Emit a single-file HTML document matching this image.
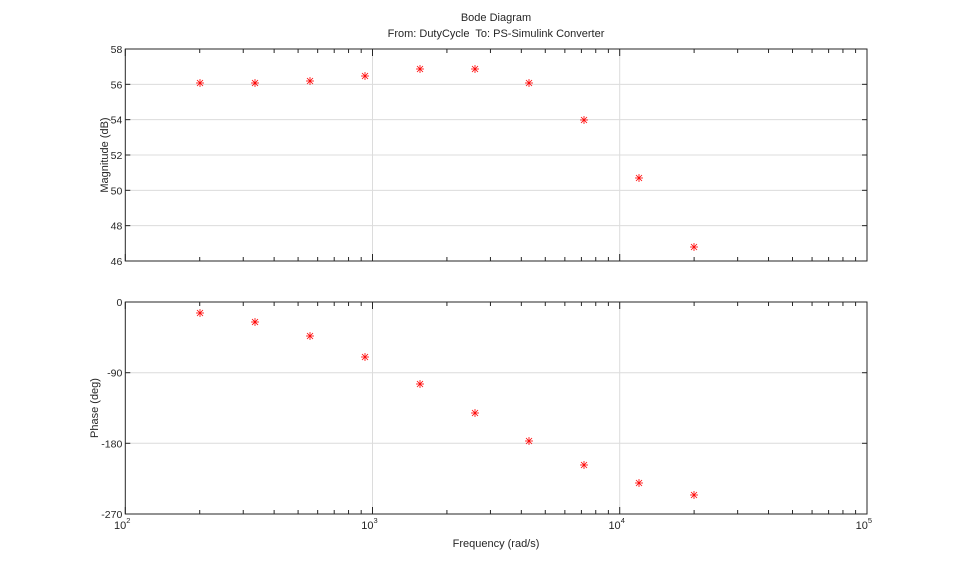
<!DOCTYPE html>
<html><head><style>body{margin:0;background:#fff}svg{display:block}text{font-family:"Liberation Sans",sans-serif;fill:#262626}</style></head>
<body>
<svg id="s" width="959" height="577" xmlns="http://www.w3.org/2000/svg"></svg>
<script>
const s=document.getElementById('s');let h='';
const L=125.3,R=867,D=247.2;
const X=v=>L+(v-2)*D;
h+='<text x="496" y="21" font-size="11" text-anchor="middle">Bode Diagram</text>';
h+='<text x="496" y="37" font-size="11" text-anchor="middle">From: DutyCycle&#160; To: PS-Simulink Converter</text>';
function axes(T,B,yt,lab,ylabel,xlabels){
  for(const y of yt){h+=`<line x1="${L}" x2="${R}" y1="${y[0]}" y2="${y[0]}" stroke="#dcdcdc" stroke-width="1"/>`;}
  for(let d=3;d<=4;d++){h+=`<line x1="${X(d)}" x2="${X(d)}" y1="${T}" y2="${B}" stroke="#dcdcdc"/>`;}
  for(let d=2;d<5;d++)for(let k=1;k<=9;k++){const x=X(d+Math.log10(k));const len=k==1?7:4;
    h+=`<line x1="${x}" x2="${x}" y1="${B}" y2="${B-len}" stroke="#262626"/><line x1="${x}" x2="${x}" y1="${T}" y2="${T+len}" stroke="#262626"/>`;}
  for(const y of yt){h+=`<line x1="${L}" x2="${L+5}" y1="${y[0]}" y2="${y[0]}" stroke="#262626"/><line x1="${R}" x2="${R-5}" y1="${y[0]}" y2="${y[0]}" stroke="#262626"/>`;
    h+=`<text x="${L-3}" y="${y[0]+4}" font-size="10.5" text-anchor="end">${y[1]}</text>`;}
  h+=`<rect x="${L}" y="${T}" width="${R-L}" height="${B-T}" fill="none" stroke="#262626"/>`;
  h+=`<text transform="translate(${lab},${(T+B)/2}) rotate(-90)" font-size="11" text-anchor="middle">${ylabel}</text>`;
  if(xlabels)for(let d=2;d<=5;d++){h+=`<text x="${X(d)+1}" y="${B+15}" font-size="11" text-anchor="end">10</text><text x="${X(d)+1}" y="${B+9}" font-size="7.5">${d}</text>`;}
}
const t1=[];for(let i=0;i<=6;i++)t1.push([49+i*35.33,58-2*i]);
axes(49,261,t1,108,'Magnitude (dB)',false);
const t2=[[302,'0'],[372.7,'-90'],[443.3,'-180'],[514,'-270']];
axes(302,514,t2,98,'Phase (deg)',true);
h+=`<text x="496" y="547" font-size="11" text-anchor="middle">Frequency (rad/s)</text>`;
const px=[200,255,310,365,420,475,529,584,639,694];
const my=[83,83,81,76,69,69,83,120,178,247];
const py=[313,322,336,357,384,413,441,465,483,495];
function star(x,y){const r=4,q=3;h+=`<g stroke="#ff0000" stroke-width="0.8"><line x1="${x-r}" x2="${x+r}" y1="${y}" y2="${y}"/><line x1="${x}" x2="${x}" y1="${y-r}" y2="${y+r}"/><line x1="${x-q}" x2="${x+q}" y1="${y-q}" y2="${y+q}"/><line x1="${x-q}" x2="${x+q}" y1="${y+q}" y2="${y-q}"/></g>`;}
px.forEach((x,i)=>{star(x,my[i]);star(x,py[i]);});
s.innerHTML=h;
</script>
</body></html>
